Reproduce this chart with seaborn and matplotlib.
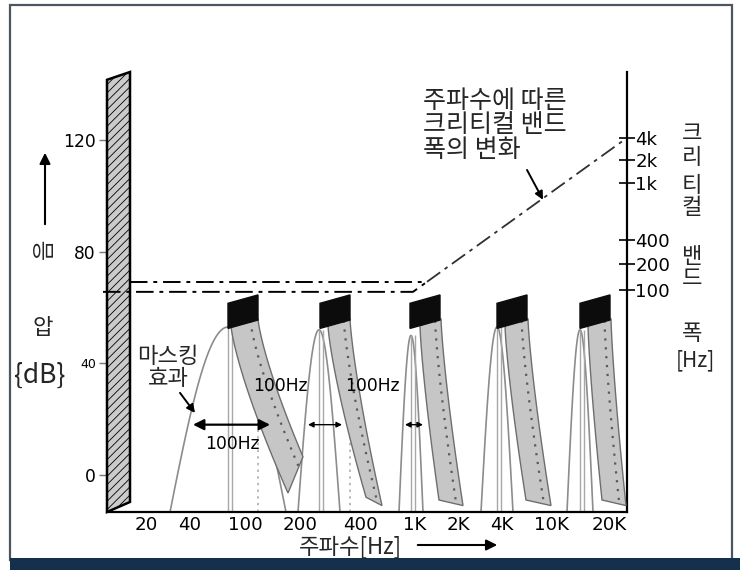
import numpy as np
import pandas as pd
import matplotlib
matplotlib.use('Agg')
import matplotlib.pyplot as plt
import seaborn as sns
from matplotlib import font_manager
from matplotlib.patches import Polygon, Rectangle, FancyArrowPatch

# ---- values ----
# x axis is a schematic position scale (0 = left axis, 520 = right axis)
freq_labels = ['20', '40', '100', '200', '400', '1K', '2K', '4K', '10K', '20K']
freq_pos = [39, 83, 138, 193, 253, 308, 351, 395, 445, 502]

# left axis: sound pressure in dB
db_ticks = [0, 40, 80, 120]
db_sizes = [15, 11, 15, 15]

# right axis: critical bandwidth, placed on the same vertical scale
cb_labels = ['100', '200', '400', '1k', '2k', '4k']
cb_pos = [66.3, 75.6, 84.2, 104.7, 112.9, 120.8]

# masking curve of each tone
tone_center = [121, 212, 304, 390, 473]
tone_peak = [53, 52, 50, 53, 52]
tone_halfwidth = [58, 21, 12, 16, 13]

# black blocks on top of each tone
block_left = [121, 213, 303, 390, 473]
block_width = 30

# gray slanted bands under the blocks
band_top_l = [124, 221, 313, 398, 481]
band_top_r = [151, 243, 334, 421, 504]
band_bot_l = [181, 259, 332, 419, 495]
band_bot_r = [196, 275, 356, 444, 519]
band_bot_db_l = [-6.5, -8, -9, -9, -9]
band_bot_db_r = [6.5, -11, -11, -11, -11]

# critical bandwidth line: flat up to ~1 kHz, then rising
cb_low_x = [-4, 306, 320]
cb_low_y = [65.6, 65.6, 69.2]
cb_up_x = [23, 320]
cb_up_y = [69.2, 69.2]
cb_rise_x = [320, 520]
cb_rise_y = [69.2, 120.8]

# 100 Hz bandwidth arrows at 18 dB
bw_from = [86, 201, 298]
bw_to = [163, 235, 316]
bw_db = 18
bw_text = ['100Hz', '100Hz', '100Hz']
bw_text_x = [125, 173, 265]
bw_text_y = [11.1, 31.9, 31.9]

Y_MIN, Y_MAX = -13.3, 144.4
X_MIN, X_MAX = 0, 520

sns.set_theme(style='white')
plt.rcParams['font.family'] = ['Noto Sans CJK KR', 'DejaVu Sans']
plt.rcParams['hatch.color'] = '#a0a0a0'
plt.rcParams['hatch.linewidth'] = 0.6

# narrow font for numbers if one is there
names = {f.name for f in font_manager.fontManager.ttflist}
if 'Liberation Sans Narrow' in names:
    num_font = dict(family='Liberation Sans Narrow')
    num_scale = 1.0
else:
    num_font = dict(family='DejaVu Sans')
    num_scale = 0.82

KR = 'Noto Sans CJK KR'

fig = plt.figure(figsize=(7.4, 5.7), dpi=100)
fig.patch.set_facecolor('white')


def fx(px):
    return px / 740


def fy(py):
    return 1 - py / 570


# outer frame and bottom bar
fig.add_artist(Rectangle((fx(10), fy(560)), fx(732) - fx(10), fy(5) - fy(560),
                         transform=fig.transFigure, fill=False,
                         edgecolor='#4c5660', lw=1.6))
fig.add_artist(Rectangle((fx(10), 0), 1 - fx(10), fy(558),
                         transform=fig.transFigure, color='#15304c', lw=0))

ax = fig.add_axes([fx(107), fy(512), fx(627) - fx(107), fy(72) - fy(512)])
ax.set_facecolor('none')
ax.set_xlim(X_MIN, X_MAX)
ax.set_ylim(Y_MIN, Y_MAX)

# masking curves
rows = []
for i, (c, pk, hw) in enumerate(zip(tone_center, tone_peak, tone_halfwidth)):
    xs = np.linspace(c - hw, c + hw, 80)
    ys = Y_MIN + (pk - Y_MIN) * np.cos(np.pi / 2 * (xs - c) / hw)
    rows.append(pd.DataFrame({'x': xs, 'y': ys, 'tone': i}))
curves = pd.concat(rows)
sns.lineplot(data=curves, x='x', y='y', hue='tone', units='tone',
             estimator=None, sort=False, palette=['#8c8c8c'] * 5,
             legend=False, lw=1.2, ax=ax, zorder=2)

# thin vertical lines at each tone
for c, pk in zip(tone_center, tone_peak):
    ax.vlines([c, c + 4], Y_MIN, pk, color='#a8a8a8', lw=1.0, zorder=2)
for x in band_top_r[:2]:
    ax.vlines(x, Y_MIN, 40, color='#b0b0b0', lw=1.2,
              linestyles=(0, (1.5, 2.5)), zorder=2)

# gray bands
t = np.linspace(0, 1, 40)
for i in range(5):
    xl = band_top_l[i] + (band_bot_l[i] - band_top_l[i]) * t ** 1.3
    yl = 53.5 + (band_bot_db_l[i] - 53.5) * t
    xr = band_top_r[i] + (band_bot_r[i] - band_top_r[i]) * t ** 1.3
    yr = 56 + (band_bot_db_r[i] - 56) * t
    pts = np.column_stack([np.r_[xl, xr[::-1]], np.r_[yl, yr[::-1]]])
    ax.add_patch(Polygon(pts, closed=True, facecolor='#c6c6c6',
                         edgecolor='#6e6e6e', lw=1.0, zorder=3))
    ax.plot(xl + 0.72 * (xr - xl), yl + 0.72 * (yr - yl), color='#5a5a5a',
            lw=1.6, ls=(0, (1, 3)), zorder=4)

# black blocks
for bl in block_left:
    ax.add_patch(Polygon([(bl, 52.5), (bl + block_width, 55.5),
                          (bl + block_width, 64.5), (bl, 61.5)],
                         closed=True, facecolor='#0c0c0c',
                         edgecolor='#0c0c0c', lw=1, zorder=5))

# tall gray bar at the left (level scale)
ax.add_patch(Polygon([(0, Y_MIN), (23, -9.7), (23, Y_MAX), (0, 141.6)],
                     closed=True, facecolor='#cbcbcb', edgecolor='black',
                     lw=1.8, hatch='////', clip_on=False, zorder=4))

# critical bandwidth lines
dash = (0, (9, 3, 2, 3))
ax.plot(cb_low_x, cb_low_y, color='black', lw=1.4, ls=dash, clip_on=False,
        zorder=6)
ax.plot(cb_up_x, cb_up_y, color='black', lw=1.4, ls=dash, zorder=6)
ax.plot(cb_rise_x, cb_rise_y, color='#303030', lw=1.3, ls=dash, zorder=6)

# 100 Hz arrows and labels
for k, (a, b) in enumerate(zip(bw_from, bw_to)):
    ms = 16 if k == 0 else 8
    ax.annotate('', xy=(b, bw_db), xytext=(a, bw_db),
                arrowprops=dict(arrowstyle='<|-|>', color='black',
                                lw=1.6 if k == 0 else 1.0,
                                mutation_scale=ms, shrinkA=0, shrinkB=0),
                zorder=7)
for s, x, y in zip(bw_text, bw_text_x, bw_text_y):
    ax.text(x, y, s, ha='center', va='center',
            fontsize=15 * num_scale, color='black', zorder=7, **num_font)

# masking effect label
ax.text(61, 38.5, '마스킹\n효과', ha='center', va='center', fontsize=16,
        family=KR, linespacing=0.95, zorder=7)
ax.annotate('', xy=(88, 22.2), xytext=(73, 29.4),
            arrowprops=dict(arrowstyle='-|>', color='black', lw=1.4,
                            mutation_scale=12, shrinkA=0, shrinkB=0),
            zorder=7)

# critical band annotation
ann = ['주파수에 따른', '크리티컬 밴드', '폭의 변화']
for s, y in zip(ann, [134.0, 125.4, 116.3]):
    ax.text(316, y, s, ha='left', va='center', fontsize=18, family=KR,
            zorder=7)
ax.annotate('', xy=(436, 98.6), xytext=(420, 109.3),
            arrowprops=dict(arrowstyle='-|>', color='black', lw=1.4,
                            mutation_scale=12, shrinkA=0, shrinkB=0),
            zorder=7)

# axes styling
for side in ['top', 'left']:
    ax.spines[side].set_visible(False)
ax.spines['bottom'].set_color('black')
ax.spines['bottom'].set_linewidth(1.6)
ax.spines['right'].set_color('black')
ax.spines['right'].set_linewidth(1.6)

ax.set_xticks(freq_pos)
ax.set_xticklabels(freq_labels, fontsize=16 * num_scale, **num_font)
ax.tick_params(axis='x', length=0, pad=3, colors='black')

ax.set_yticks(db_ticks)
ax.set_yticklabels([str(v) for v in db_ticks], **num_font)
for lab, sz in zip(ax.get_yticklabels(), db_sizes):
    lab.set_fontsize(sz * num_scale)
ax.tick_params(axis='y', left=True, direction='out', length=6, width=1,
               color='#777777', pad=2, colors='black')
ax.set_xlabel('')
ax.set_ylabel('')

ax2 = ax.twinx()
ax2.set_ylim(Y_MIN, Y_MAX)
for side in ['top', 'left', 'bottom', 'right']:
    ax2.spines[side].set_visible(False)
ax2.set_yticks(cb_pos)
ax2.set_yticklabels(cb_labels, fontsize=16 * num_scale, **num_font)
ax2.tick_params(axis='y', right=True, direction='inout', length=12,
                width=1.2, pad=0, colors='black')
ax2.grid(False)
ax.grid(False)

# left axis title
fig.text(fx(44), fy(249), '음', rotation=90, ha='center', va='center',
         fontsize=16, family=KR)
fig.text(fx(43), fy(327), '압', ha='center', va='center', fontsize=16,
         family=KR)
fig.text(fx(40), fy(375), '{dB}', ha='center', va='center', fontsize=19,
         family=KR)
fig.add_artist(FancyArrowPatch((fx(45), fy(227)), (fx(45), fy(150)),
                               transform=fig.transFigure, arrowstyle='-|>',
                               mutation_scale=16, color='black', lw=1.5))

# right axis title, one character per line
for ch, py in zip(['크', '리', '티', '컬', '밴', '드', '폭'],
                  [133, 157, 185, 207, 256, 278, 333]):
    fig.text(fx(692), fy(py), ch, ha='center', va='center', fontsize=16,
             family=KR)
fig.text(fx(695), fy(360), '[Hz]', ha='center', va='center', fontsize=15,
         family=KR)

# bottom axis title
fig.text(fx(350), fy(547), '주파수[Hz]', ha='center', va='center',
         fontsize=16, family=KR)
fig.add_artist(FancyArrowPatch((fx(415), fy(545)), (fx(500), fy(545)),
                               transform=fig.transFigure, arrowstyle='-|>',
                               mutation_scale=16, color='black', lw=1.5))

fig.savefig('out.png', dpi=100)
